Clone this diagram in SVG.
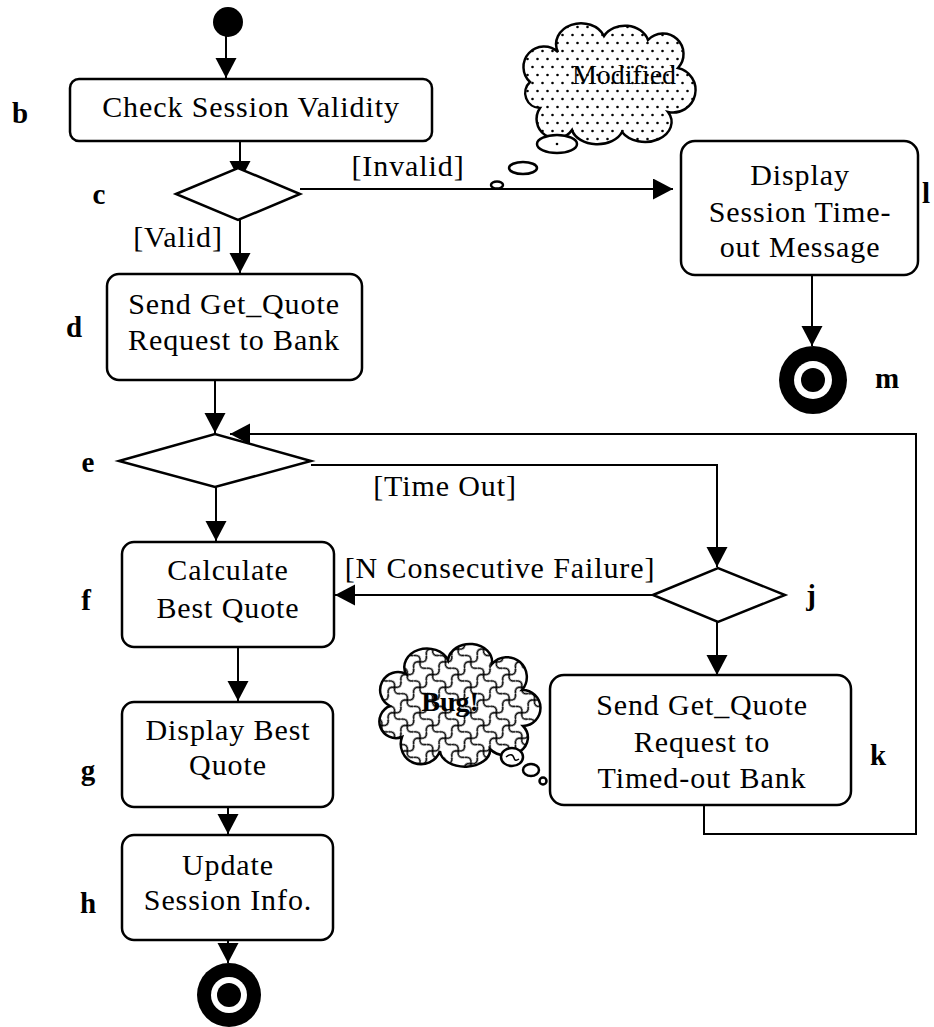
<svg xmlns="http://www.w3.org/2000/svg" width="934" height="1027" viewBox="0 0 934 1027">
  <style>
    .box { fill: #fff; stroke: #000; stroke-width: 2.5; }
    .dia { fill: #fff; stroke: #000; stroke-width: 2.5; }
    .edge { fill: none; stroke: #000; stroke-width: 2; }
    .t { font-family: "Liberation Serif", "Times New Roman", serif; font-size: 30px; letter-spacing: 0.9px; fill: #000; text-anchor: middle; }
    .lbl { font-family: "Liberation Serif", "Times New Roman", serif; font-size: 29px; font-weight: bold; fill: #000; text-anchor: middle; }
    .note { font-family: "Liberation Serif", "Times New Roman", serif; font-size: 28px; fill: #000; text-anchor: middle; }
    .cloud { stroke: #000; stroke-width: 2.5; }
    .bub { fill: #fff; stroke: #000; stroke-width: 2.5; }
  </style>
  <defs>
    <marker id="arrow" markerUnits="userSpaceOnUse" markerWidth="22" markerHeight="22" refX="20" refY="10.5" orient="auto">
      <path d="M0,0 L20,10.5 L0,21 z" fill="#000"/>
    </marker>
    <pattern id="dots" width="10" height="16" patternUnits="userSpaceOnUse">
      <rect width="10" height="16" fill="#fff"/>
      <circle cx="2.5" cy="3" r="1.3" fill="#000"/>
      <circle cx="7.5" cy="11" r="1.3" fill="#000"/>
    </pattern>
    <pattern id="weave" width="18" height="18" patternUnits="userSpaceOnUse" patternTransform="rotate(45)">
      <rect width="18" height="18" fill="#fff"/>
      <path d="M0,9 Q4.5,3 9,9 T18,9" fill="none" stroke="#000" stroke-width="1.6"/>
      <path d="M9,0 Q15,4.5 9,9 T9,18" fill="none" stroke="#000" stroke-width="1.6"/>
    </pattern>
  </defs>

  <!-- connectors -->
  <g id="connectors">
    <line class="edge" x1="226" y1="36" x2="226" y2="78" marker-end="url(#arrow)"/>
    <line class="edge" x1="240" y1="141" x2="240" y2="181" marker-end="url(#arrow)"/>
    <line class="edge" x1="300" y1="189" x2="673" y2="189" marker-end="url(#arrow)"/>
    <line class="edge" x1="240" y1="220" x2="240" y2="273" marker-end="url(#arrow)"/>
    <line class="edge" x1="215" y1="380" x2="215" y2="433" marker-end="url(#arrow)"/>
    <line class="edge" x1="216" y1="487" x2="216" y2="541" marker-end="url(#arrow)"/>
    <polyline class="edge" points="311,465 717,465 717,567" marker-end="url(#arrow)"/>
    <line class="edge" x1="653" y1="595" x2="335" y2="595" marker-end="url(#arrow)"/>
    <line class="edge" x1="717" y1="622" x2="717" y2="675" marker-end="url(#arrow)"/>
    <polyline class="edge" points="704,805 704,834 916,834 916,434 230,434" marker-end="url(#arrow)"/>
    <line class="edge" x1="812" y1="275" x2="812" y2="346" marker-end="url(#arrow)"/>
    <line class="edge" x1="238" y1="647" x2="238" y2="701" marker-end="url(#arrow)"/>
    <line class="edge" x1="228" y1="807" x2="228" y2="834" marker-end="url(#arrow)"/>
    <line class="edge" x1="228" y1="940" x2="228" y2="963" marker-end="url(#arrow)"/>
    <text class="t" x="408" y="176">[Invalid]</text>
    <text class="t" x="178" y="247">[Valid]</text>
    <text class="t" x="445" y="496">[Time Out]</text>
    <text class="t" x="500" y="578">[N Consecutive Failure]</text>
  </g>

  <!-- initial state -->
  <g id="start">
    <circle cx="228" cy="22" r="15" fill="#000"/>
  </g>

  <g id="b">
    <rect class="box" x="70" y="79" width="362" height="62" rx="9"/>
    <text class="t" x="251" y="117">Check Session Validity</text>
    <text class="lbl" x="20" y="123">b</text>
  </g>

  <g id="c">
    <polygon class="dia" points="176,194 238,168 300,194 238,220"/>
    <text class="lbl" x="99" y="204">c</text>
  </g>

  <g id="d">
    <rect class="box" x="107" y="274" width="255" height="106" rx="12"/>
    <text class="t" x="234" y="314">Send Get_Quote</text>
    <text class="t" x="234" y="350">Request to Bank</text>
    <text class="lbl" x="74" y="337">d</text>
  </g>

  <g id="l">
    <rect class="box" x="681" y="141" width="237" height="134" rx="14"/>
    <text class="t" x="800" y="185">Display</text>
    <text class="t" x="800" y="222">Session Time-</text>
    <text class="t" x="800" y="257">out Message</text>
    <text class="lbl" x="922" y="203" style="text-anchor:start">l</text>
  </g>

  <g id="m">
    <circle cx="813" cy="380" r="34" fill="#000"/>
    <circle cx="813" cy="380" r="19" fill="#fff"/>
    <circle cx="813" cy="380" r="12" fill="#000"/>
    <text class="lbl" x="887" y="388">m</text>
  </g>

  <g id="e">
    <polygon class="dia" points="119,461 215,434 311,461 215,487"/>
    <text class="lbl" x="88" y="472">e</text>
  </g>

  <g id="f">
    <rect class="box" x="122" y="542" width="212" height="105" rx="12"/>
    <text class="t" x="228" y="580">Calculate</text>
    <text class="t" x="228" y="618">Best Quote</text>
    <text class="lbl" x="86" y="610">f</text>
  </g>

  <g id="g">
    <rect class="box" x="122" y="702" width="211" height="105" rx="12"/>
    <text class="t" x="228" y="740">Display Best</text>
    <text class="t" x="228" y="775">Quote</text>
    <text class="lbl" x="88" y="780">g</text>
  </g>

  <g id="h">
    <rect class="box" x="122" y="835" width="211" height="105" rx="12"/>
    <text class="t" x="228" y="875">Update</text>
    <text class="t" x="228" y="910">Session Info.</text>
    <text class="lbl" x="88" y="913">h</text>
  </g>

  <g id="final">
    <circle cx="229" cy="995" r="32" fill="#000"/>
    <circle cx="229" cy="995" r="18" fill="#fff"/>
    <circle cx="229" cy="995" r="12" fill="#000"/>
  </g>

  <g id="j">
    <polygon class="dia" points="653,595 718,568 785,595 718,622"/>
    <text class="lbl" x="811" y="605">j</text>
  </g>

  <g id="k">
    <rect class="box" x="550" y="675" width="301" height="130" rx="14"/>
    <text class="t" x="702" y="715">Send Get_Quote</text>
    <text class="t" x="702" y="752">Request to</text>
    <text class="t" x="702" y="788">Timed-out Bank</text>
    <text class="lbl" x="878" y="765">k</text>
  </g>

  <!-- note cloud: Modified -->
  <g id="note-modified">
    <path class="cloud" fill="url(#dots)" d="M540,108 A15,15 0 0 1 530,82 A17,17 0 0 1 558,52 A24,20 0 0 1 604,36 A24,20 0 0 1 648,40 A17,17 0 0 1 678,68 A16,16 0 0 1 668,112 A24,18 0 0 1 622,132 A26,18 0 0 1 572,130 A16,16 0 0 1 540,108 z"/>
    <text class="note" x="624" y="84">Modified</text>
    <ellipse class="bub" cx="557" cy="144" rx="20" ry="9"/>
    <circle cx="557" cy="144" r="1.3" fill="#000"/>
    <ellipse class="bub" cx="523" cy="168" rx="14" ry="6"/>
    <ellipse class="bub" cx="497" cy="185" rx="6" ry="3.5"/>
  </g>

  <!-- note cloud: Bug! -->
  <g id="note-bug">
    <path class="cloud" fill="url(#weave)" d="M402,737 A14,14 0 0 1 390,706 A16,16 0 0 1 406,674 A22,18 0 0 1 448,660 A22,18 0 0 1 492,664 A17,17 0 0 1 522,690 A15,15 0 0 1 523,726 A19,16 0 0 1 490,749 A24,16 0 0 1 440,751 A17,17 0 0 1 402,737 z"/>
    <text class="note" x="450" y="711" style="font-weight:bold">Bug!</text>
    <ellipse class="bub" cx="512" cy="757" rx="11" ry="9"/>
    <path d="M506,757 Q512,752 514,758 Q515,762 519,759" fill="none" stroke="#000" stroke-width="1.5"/>
    <ellipse class="bub" cx="531" cy="770" rx="8" ry="6"/>
    <circle class="bub" cx="543" cy="781" r="3.5"/>
  </g>
</svg>
